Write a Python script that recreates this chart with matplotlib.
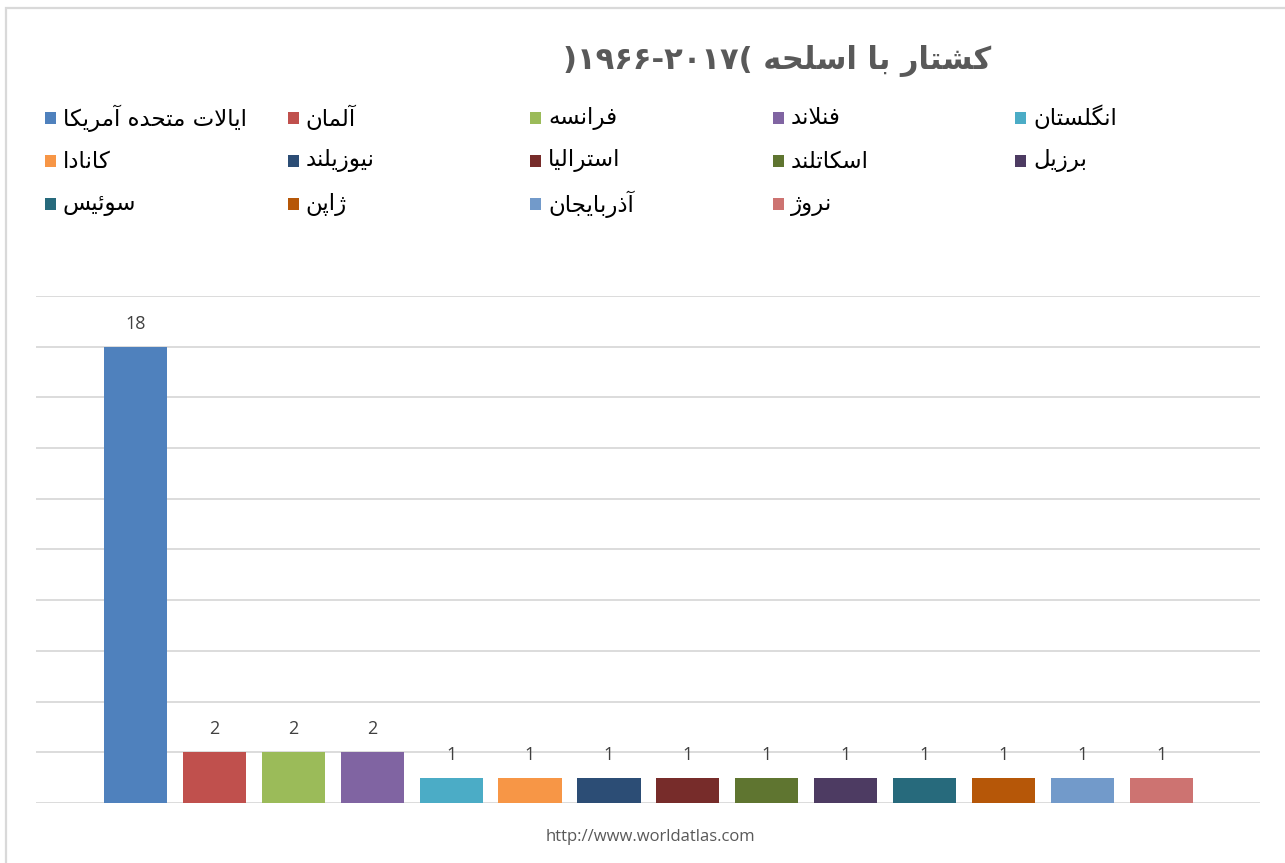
import matplotlib
matplotlib.use("Agg")
import matplotlib.pyplot as plt
from matplotlib.patches import Rectangle
import numpy as np

# data
countries = ["ایالات متحده آمریکا", "آلمان", "فرانسه", "فنلاند", "انگلستان",
             "کانادا", "نیوزیلند", "استرالیا", "اسکاتلند", "برزیل",
             "سوئیس", "ژاپن", "آذربایجان", "نروژ"]
deaths = [18, 2, 2, 2, 1, 1, 1, 1, 1, 1, 1, 1, 1, 1]
colors = ["#4F81BD", "#C0504D", "#9BBB59", "#8064A2", "#4BACC6", "#F79646", "#2C4D75",
          "#772C2A", "#5F7530", "#4D3B62", "#276A7C", "#B65708", "#729ACA", "#CD7371"]
title_fa = "کشتار با اسلحه"
years = ")۱۹۶۶-۲۰۱۷("
source = "http://www.worldatlas.com"

# --- tiny Persian shaper (matplotlib has no complex text layout) ---
# letter: (isol, fina, init, medi); right-joining letters only have isol/fina
FORMS = {
    "ا": (0xFE8D, 0xFE8E), "آ": (0xFE81, 0xFE82), "د": (0xFEA9, 0xFEAA),
    "ذ": (0xFEAB, 0xFEAC), "ر": (0xFEAD, 0xFEAE), "ز": (0xFEAF, 0xFEB0),
    "ژ": (0xFB8A, 0xFB8B), "و": (0xFEED, 0xFEEE),
    "ب": (0xFE8F, 0xFE90, 0xFE91, 0xFE92), "پ": (0xFB56, 0xFB57, 0xFB58, 0xFB59),
    "ت": (0xFE95, 0xFE96, 0xFE97, 0xFE98), "ج": (0xFE9D, 0xFE9E, 0xFE9F, 0xFEA0),
    "ح": (0xFEA1, 0xFEA2, 0xFEA3, 0xFEA4), "س": (0xFEB1, 0xFEB2, 0xFEB3, 0xFEB4),
    "ش": (0xFEB5, 0xFEB6, 0xFEB7, 0xFEB8), "ف": (0xFED1, 0xFED2, 0xFED3, 0xFED4),
    "ل": (0xFEDD, 0xFEDE, 0xFEDF, 0xFEE0), "م": (0xFEE1, 0xFEE2, 0xFEE3, 0xFEE4),
    "ن": (0xFEE5, 0xFEE6, 0xFEE7, 0xFEE8), "ه": (0xFEE9, 0xFEEA, 0xFEEB, 0xFEEC),
    "ئ": (0xFE89, 0xFE8A, 0xFE8B, 0xFE8C), "ک": (0xFB8E, 0xFB8F, 0xFB90, 0xFB91),
    "گ": (0xFB92, 0xFB93, 0xFB94, 0xFB95), "ی": (0xFBFC, 0xFBFD, 0xFBFE, 0xFBFF),
}
LAMALEF = {"ا": (0xFEFB, 0xFEFC), "آ": (0xFEF5, 0xFEF6)}


def shape(s):
    # lam-alef ligatures first
    chars = []
    i = 0
    while i < len(s):
        if s[i] == "ل" and i + 1 < len(s) and s[i + 1] in LAMALEF:
            chars.append(("LA", s[i + 1]))
            i += 2
        else:
            chars.append((s[i], None))
            i += 1

    def dual(c):
        return c[0] in FORMS and len(FORMS[c[0]]) == 4

    def arabic(c):
        return c[0] == "LA" or c[0] in FORMS

    out = []
    for k, c in enumerate(chars):
        prev = chars[k - 1] if k > 0 else None
        nxt = chars[k + 1] if k + 1 < len(chars) else None
        join_prev = prev is not None and dual(prev) and arabic(c)
        if c[0] == "LA":
            f = LAMALEF[c[1]]
            out.append(chr(f[1] if join_prev else f[0]))
            continue
        if c[0] not in FORMS:
            out.append(c[0])
            continue
        f = FORMS[c[0]]
        join_next = len(f) == 4 and nxt is not None and arabic(nxt)
        if join_prev and join_next:
            out.append(chr(f[3]))
        elif join_prev:
            out.append(chr(f[1]))
        elif join_next:
            out.append(chr(f[2]))
        else:
            out.append(chr(f[0]))
    return "".join(out)[::-1]


W, H = 1285, 863
fig = plt.figure(figsize=(W / 100, H / 100), dpi=100)
fig.patch.set_facecolor("white")

# chart border
fig.patches.append(Rectangle((6 / W, -0.05), 1.2, (H - 8) / H + 0.05, transform=fig.transFigure,
                             fill=False, edgecolor="#D9D9D9", linewidth=1.6))

ax = fig.add_axes([36 / W, 60 / H, (1260 - 36) / W, (803 - 296) / H])
x = np.arange(len(deaths))
bars = ax.bar(x, deaths, width=0.8, color=colors, zorder=3)
ax.bar_label(bars, labels=[str(v) for v in deaths], padding=10, fontsize=13,
             color="#404040", family="Open Sans")

ax.set_ylim(0, 20)
ax.set_xlim(-1.26, 14.25)
ax.set_yticks(np.arange(0, 21, 2))
ax.yaxis.grid(True, color="#D9D9D9", linewidth=1.3)
ax.set_xticks([])
ax.tick_params(left=False, labelleft=False)
for sp in ax.spines.values():
    sp.set_visible(False)

# title
fig.text(777 / W, 1 - 61 / H, years + " " + shape(title_fa), ha="center", va="center",
         fontsize=22, fontweight="bold", color="#595959", family="DejaVu Sans")

# legend, filled row by row like the source
for i, (name, c) in enumerate(zip(countries, colors)):
    col, row = i % 5, i // 5
    lx = (45 + col * 242.5) / W
    ly = 1 - (118 + row * 43) / H
    fig.patches.append(Rectangle((lx, ly - 6 / H), 11 / W, 12 / H, transform=fig.transFigure,
                                 facecolor=c, edgecolor="none"))
    fig.text(lx + 18 / W, ly, shape(name), ha="left", va="center", fontsize=16.5,
             color="black", family="DejaVu Sans")

fig.text(650 / W, 1 - 837 / H, source, ha="center", va="center", fontsize=12,
         color="#595959", family="Open Sans")

fig.savefig("out.png", dpi=100, facecolor="white")
